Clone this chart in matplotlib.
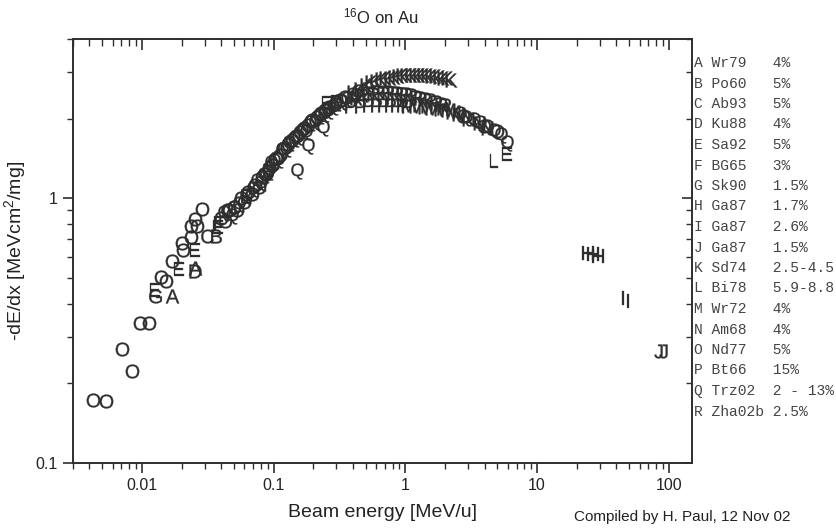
import numpy as np
import matplotlib
matplotlib.use('Agg')
import matplotlib.pyplot as plt
from matplotlib.ticker import LogLocator, FixedLocator, NullFormatter, FixedFormatter

plt.rcParams['font.family'] = ['Liberation Sans', 'DejaVu Sans']
plt.rcParams['mathtext.default'] = 'regular'

# donnees (energie MeV/u, pouvoir d'arret MeVcm2/mg)
A_e = [0.0170, 0.0252]
A_s = [0.426, 0.546]
B_e = [0.0368, 0.062, 0.090]
B_s = [0.72, 1.02, 1.27]
C_e = [0.031, 0.044, 0.050]
C_s = [0.72, 0.90, 0.93]
D_e = [0.0252]
D_s = [0.53]
E_e = [0.0125, 0.0191, 0.0252, 0.0377, 0.253, 5.96]
E_s = [0.450, 0.541, 0.637, 0.780, 2.30, 1.47]
F_e = [0.0385, 0.295]
F_s = [0.81, 2.32]
G_e = [0.0125]
G_s = [0.426]
H_e = [24.3, 26.5, 29.0]
H_s = [0.623, 0.615, 0.605]
I_e = [44.8, 48.8]
I_s = [0.42, 0.41]
J_e = [82.8, 90.4]
J_s = [0.264, 0.264]
K_e = [0.40, 0.45, 0.50, 0.55, 0.60, 0.65, 0.70, 0.76, 0.82, 0.88, 0.95, 1.02, 1.10,
       1.18, 1.27, 1.36, 1.46, 1.57, 1.68, 1.80, 1.93, 2.07, 2.22]
K_s = [2.52, 2.60, 2.68, 2.75, 2.78, 2.82, 2.84, 2.86, 2.88, 2.90, 2.92, 2.92, 2.93,
       2.93, 2.93, 2.92, 2.92, 2.91, 2.90, 2.88, 2.86, 2.84, 2.80]
L_e = [4.72]
L_s = [1.38]
M_e = [1.05, 1.20, 1.40, 1.60, 1.85, 2.10, 2.30]
M_s = [2.25, 2.24, 2.22, 2.20, 2.18, 2.15, 2.12]
N_e = [2.5, 3.0, 3.6, 4.2]
N_s = [2.08, 2.00, 1.92, 1.85]
O_e = [0.00429, 0.00535, 0.00705, 0.00835, 0.0096, 0.0113, 0.0139, 0.0153,
       0.0168, 0.0200, 0.0205, 0.0234, 0.0238, 0.0260, 0.0252, 0.0288,
       0.040, 0.043, 0.046, 0.050, 0.053, 0.057, 0.060, 0.064, 0.068, 0.072,
       0.077, 0.082, 0.087, 0.092, 0.098, 0.105, 0.112, 0.120, 0.128, 0.137,
       0.147, 0.158, 0.170, 0.183, 0.197, 0.212, 0.228, 0.245, 0.265, 0.29,
       0.32, 0.35, 2.76, 3.94, 5.0]
O_s = [0.173, 0.171, 0.270, 0.222, 0.339, 0.339, 0.505, 0.489,
       0.579, 0.680, 0.640, 0.716, 0.785, 0.785, 0.833, 0.914,
       0.84, 0.82, 0.90, 0.93, 0.90, 1.00, 0.97, 1.06, 1.04, 1.12,
       1.10, 1.20, 1.24, 1.30, 1.34, 1.42, 1.46, 1.55, 1.60, 1.66,
       1.72, 1.78, 1.84, 1.90, 1.97, 2.03, 2.10, 2.15, 2.22, 2.28,
       2.35, 2.42, 2.05, 1.88, 1.80]
P_e = [0.38, 0.45, 0.52, 0.60, 0.68, 0.76, 0.85, 0.95, 1.03]
P_s = [2.24, 2.24, 2.25, 2.26, 2.26, 2.26, 2.25, 2.25, 2.24]
Q_e = [0.042, 0.048, 0.055, 0.062, 0.070, 0.075, 0.080, 0.085, 0.090, 0.095,
       0.100, 0.108, 0.115, 0.124, 0.132, 0.142, 0.152, 0.165, 0.175, 0.19,
       0.205, 0.22, 0.24, 0.26, 0.28, 0.30, 0.33, 0.36, 0.40, 0.44,
       0.150, 0.184, 0.239,
       2.6, 2.9, 3.3, 3.7, 4.2, 4.7, 5.3, 5.96]
Q_s = [0.88, 0.86, 0.95, 1.02, 1.08, 1.16, 1.14, 1.22, 1.26, 1.36,
       1.38, 1.40, 1.52, 1.53, 1.62, 1.68, 1.70, 1.80, 1.78, 1.92,
       1.95, 2.05, 2.08, 2.14, 2.22, 2.30, 2.32, 2.38, 2.46, 2.52,
       1.27, 1.58, 1.85,
       2.08, 2.02, 1.97, 1.92, 1.86, 1.80, 1.74, 1.62]
R_e = [0.42, 0.47, 0.52, 0.57, 0.62, 0.68, 0.74, 0.80, 0.87, 0.94, 1.02, 1.10,
       1.20, 1.30, 1.42, 1.55, 1.70, 1.85, 2.0]
R_s = [2.40, 2.45, 2.50, 2.48, 2.52, 2.50, 2.52, 2.50, 2.50, 2.48, 2.47, 2.45,
       2.42, 2.40, 2.38, 2.35, 2.32, 2.28, 2.25]

lettres = ['A', 'B', 'C', 'D', 'E', 'F', 'G', 'H', 'I', 'J', 'K', 'L', 'M', 'N', 'O', 'P', 'Q', 'R']
refs = ['Wr79', 'Po60', 'Ab93', 'Ku88', 'Sa92', 'BG65', 'Sk90', 'Ga87', 'Ga87', 'Ga87',
        'Sd74', 'Bi78', 'Wr72', 'Am68', 'Nd77', 'Bt66', 'Trz02', 'Zha02b']
incert = ['4%', '5%', '5%', '4%', '5%', '3%', '1.5%', '1.7%', '2.6%', '1.5%',
          '2.5-4.5', '5.9-8.8', '4%', '4%', '5%', '15%', '2 - 13%', '2.5%']

series = [(A_e, A_s), (B_e, B_s), (C_e, C_s), (D_e, D_s), (E_e, E_s), (F_e, F_s),
          (G_e, G_s), (H_e, H_s), (I_e, I_s), (J_e, J_s), (K_e, K_s), (L_e, L_s),
          (M_e, M_s), (N_e, N_s), (O_e, O_s), (P_e, P_s), (Q_e, Q_s), (R_e, R_s)]

W, H = 836, 530
fig = plt.figure(figsize=(W/100, H/100), dpi=100)
ax = fig.add_axes([73/W, 1-463/H, (692-73)/W, (463-39)/H])

gris = '#2e2e2e'
for let, (e, s) in zip(lettres, series):
    taille = 11.5 if let == 'Q' else 10
    ax.plot(e, s, ls='none', marker='$%s$' % let, ms=taille, mew=0.2,
            color=gris)

ax.set_xscale('log')
ax.set_yscale('log')
ax.set_xlim(0.003, 150)
ax.set_ylim(0.1, 4)

ax.xaxis.set_major_locator(FixedLocator([0.01, 0.1, 1, 10, 100]))
ax.xaxis.set_major_formatter(FixedFormatter(['0.01', '0.1', '1', '10', '100']))
ax.xaxis.set_minor_locator(LogLocator(base=10, subs=np.arange(2, 10)))
ax.xaxis.set_minor_formatter(NullFormatter())
ax.yaxis.set_major_locator(FixedLocator([0.1, 1]))
ax.yaxis.set_major_formatter(FixedFormatter(['0.1', '1']))
ax.yaxis.set_minor_locator(LogLocator(base=10, subs=np.arange(2, 10)))
ax.yaxis.set_minor_formatter(NullFormatter())

ax.tick_params(which='major', direction='out', length=7, width=1.2, color=gris,
               labelsize=11.5, labelcolor='#222', pad=4)
ax.tick_params(which='minor', direction='out', length=4, width=1.0, color=gris)
for sp in ax.spines.values():
    sp.set_color(gris)
    sp.set_linewidth(1.4)

# graduations interieures en haut et a droite
axt = ax.twiny()
axt.set_xscale('log')
axt.set_xlim(ax.get_xlim())
axt.xaxis.set_major_locator(FixedLocator([0.01, 0.1, 1, 10, 100]))
axt.xaxis.set_minor_locator(LogLocator(base=10, subs=np.arange(2, 10)))
axt.xaxis.set_minor_formatter(NullFormatter())
axt.tick_params(which='major', direction='in', length=8, width=1.2, color=gris, labeltop=False)
axt.tick_params(which='minor', direction='in', length=5, width=1.0, color=gris)
axr = ax.twinx()
axr.set_yscale('log')
axr.set_ylim(ax.get_ylim())
axr.yaxis.set_major_locator(FixedLocator([0.1, 1]))
axr.yaxis.set_minor_locator(LogLocator(base=10, subs=np.arange(2, 10)))
axr.yaxis.set_minor_formatter(NullFormatter())
axr.tick_params(which='major', direction='in', length=7, width=1.2, color=gris, labelright=False)
axr.tick_params(which='minor', direction='in', length=4, width=1.0, color=gris)
for a in (axt, axr):
    for sp in a.spines.values():
        sp.set_visible(False)

ax.set_xlabel('Beam energy [MeV/u]', fontsize=14, color='#222', labelpad=8)
ax.set_ylabel('-dE/dx [MeVcm$^2$/mg]', fontsize=14, color='#222')
ax.yaxis.set_label_coords(-0.072, 0.5)
fig.text(381/W, 1-16/H, '$^{16}$O on Au', ha='center', va='center', fontsize=12, color='#222')
fig.text(682/W, 1-517/H, 'Compiled by H. Paul, 12 Nov 02', ha='center', va='center',
         fontsize=11, color='#222')

# liste des references a droite
for i, (let, ref, inc) in enumerate(zip(lettres, refs, incert)):
    ligne = '%s %-6s %s' % (let, ref, inc)
    fig.text(694/W, 1-(63+20.5*i)/H, ligne, family='Liberation Mono', fontsize=10.5,
             va='center', ha='left', color='#444')

fig.savefig('out.png', dpi=100)
